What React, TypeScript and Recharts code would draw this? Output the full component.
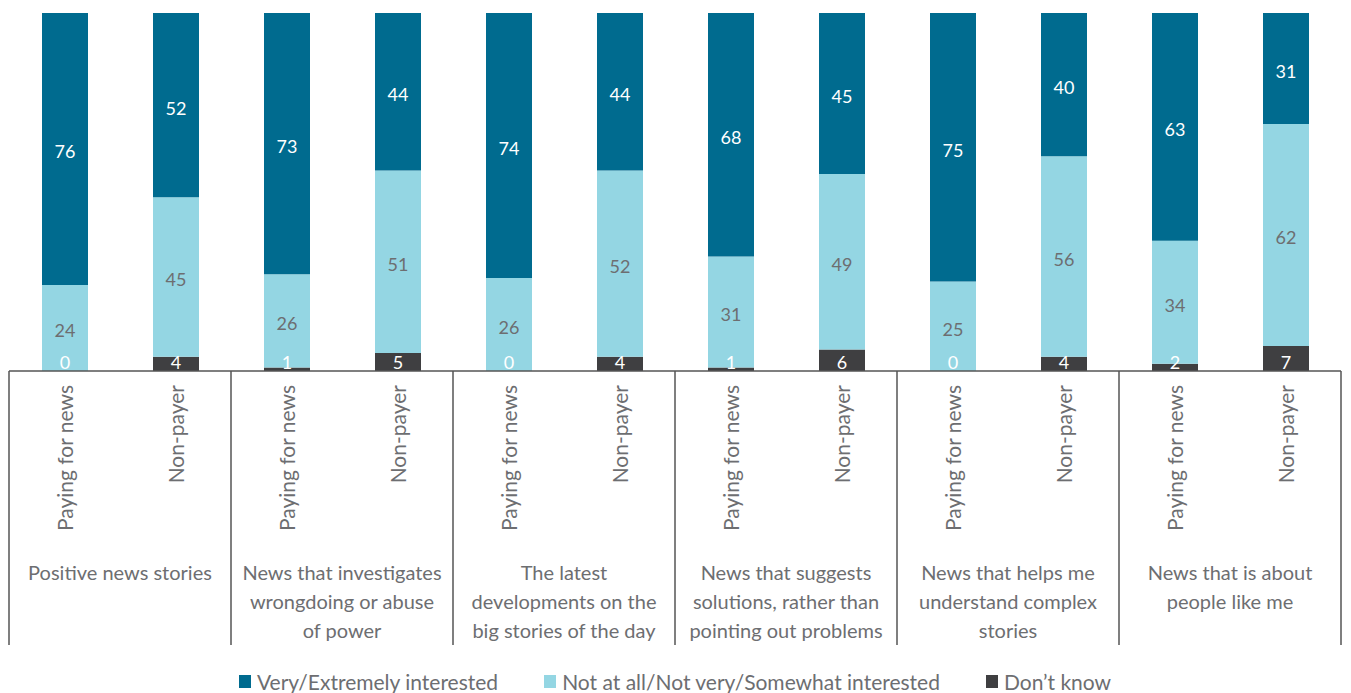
import { Bar, BarChart, LabelList, Legend, XAxis, YAxis } from "recharts";

// group (topic) labels, one entry per pair of bars, split into lines
const topics = [
  ["Positive news stories"],
  ["News that investigates", "wrongdoing or abuse", "of power"],
  ["The latest", "developments on the", "big stories of the day"],
  ["News that suggests", "solutions, rather than", "pointing out problems"],
  ["News that helps me", "understand complex", "stories"],
  ["News that is about", "people like me"],
];
const audiences = ["Paying for news", "Non-payer"];

const interested = [76, 52, 73, 44, 74, 44, 68, 45, 75, 40, 63, 31];
const notInterested = [24, 45, 26, 51, 26, 52, 31, 49, 25, 56, 34, 62];
const dontKnow = [0, 4, 1, 5, 0, 4, 1, 6, 0, 4, 2, 7];

const data = interested.map((v, i) => ({
  audience: audiences[i % 2],
  interested: v,
  notInterested: notInterested[i],
  dontKnow: dontKnow[i],
}));

const DARK = "#006b8f";
const LIGHT = "#94d6e3";
const GREY = "#3f3f41";
const TEXT = "#6d6e71";
const AXIS = "#555555";
const BAND = 111;

const series = [
  { key: "interested", name: "Very/Extremely interested", color: DARK },
  { key: "notInterested", name: "Not at all/Not very/Somewhat interested", color: LIGHT },
  { key: "dontKnow", name: "Don\u2019t know", color: GREY },
];

function AudienceTick(props: any) {
  const { x, y, payload } = props;
  const i = payload.index;
  const left = x - BAND / 2;
  const right = x + BAND / 2;
  return (
    <g>
      <text
        transform={`translate(${x},${y + 14}) rotate(-90)`}
        textAnchor="end"
        dominantBaseline="central"
        fill={TEXT}
        fontSize={21}
      >
        {payload.value}
      </text>
      {i % 2 === 0 && (
        <>
          <line x1={left} x2={left} y1={y} y2={y + 274} stroke={AXIS} strokeWidth={1.5} />
          <text x={right} y={y + 209} textAnchor="middle" fill={TEXT} fontSize={20}>
            {topics[i / 2].map((line, k) => (
              <tspan key={k} x={right} dy={k === 0 ? 0 : 29}>
                {line}
              </tspan>
            ))}
          </text>
        </>
      )}
      {i === data.length - 1 && (
        <line x1={right} x2={right} y1={y} y2={y + 274} stroke={AXIS} strokeWidth={1.5} />
      )}
    </g>
  );
}

function LegendContent() {
  return (
    <div style={{ display: "flex", justifyContent: "center", gap: 46, height: 24, alignItems: "center" }}>
      {series.map((s) => (
        <div key={s.key} style={{ display: "flex", alignItems: "center", gap: 6 }}>
          <span style={{ width: 12, height: 13, background: s.color, display: "inline-block" }} />
          <span style={{ color: TEXT, fontSize: 21 }}>{s.name}</span>
        </div>
      ))}
    </div>
  );
}

export default function App() {
  return (
    <div style={{ position: "absolute", left: 0, top: 0, fontFamily: "Lato, sans-serif" }}>
      <BarChart
        width={1351}
        height={693}
        data={data}
        stackOffset="expand"
        barSize={46}
        margin={{ top: 13, right: 10, left: 9, bottom: 0 }}
      >
        <XAxis
          dataKey="audience"
          interval={0}
          tickLine={false}
          tickSize={0}
          tickMargin={0}
          height={298}
          axisLine={{ stroke: AXIS, strokeWidth: 1.5 }}
          tick={<AudienceTick />}
        />
        <YAxis hide />
        <Legend verticalAlign="bottom" content={<LegendContent />} />
        <Bar dataKey="dontKnow" stackId="a" fill={GREY} minPointSize={0.1} isAnimationActive={false}>
          <LabelList dataKey="dontKnow" position="insideBottom" offset={2} fill="#ffffff" fontSize={18} />
        </Bar>
        <Bar dataKey="notInterested" stackId="a" fill={LIGHT} isAnimationActive={false}>
          <LabelList dataKey="notInterested" position="center" dy={3} fill={TEXT} fontSize={18} />
        </Bar>
        <Bar dataKey="interested" stackId="a" fill={DARK} isAnimationActive={false}>
          <LabelList dataKey="interested" position="center" dy={3} fill="#ffffff" fontSize={18} />
        </Bar>
      </BarChart>
    </div>
  );
}
